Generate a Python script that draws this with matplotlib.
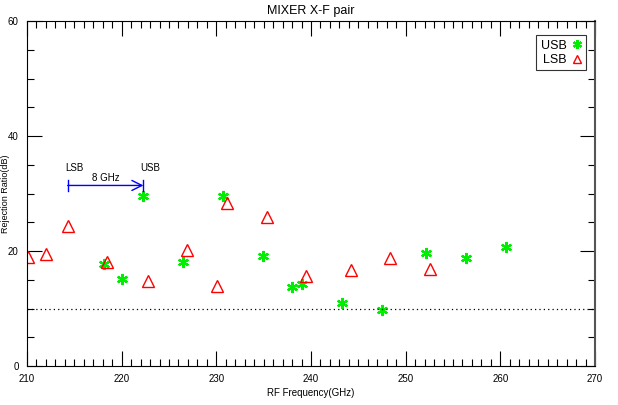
import matplotlib
matplotlib.use('Agg')
import matplotlib.pyplot as plt
from matplotlib.ticker import MultipleLocator

plt.rcParams['font.family'] = ['Liberation Sans', 'DejaVu Sans']

# USB points (RF GHz, rejection dB)
usb_freq = [222.3, 230.7, 218.1, 220.0, 226.5, 234.9, 238.0, 239.0,
            243.3, 247.5, 252.1, 256.4, 260.6]
usb_rej = [29.5, 29.5, 17.8, 15.2, 18.1, 19.2, 13.8, 14.3,
           11.0, 9.8, 19.7, 18.7, 20.7]

# LSB points
lsb_freq = [210.1, 212.0, 214.3, 218.4, 222.8, 226.9, 230.1, 231.1,
            235.3, 239.5, 244.2, 248.3, 252.6]
lsb_rej = [19.0, 19.5, 24.3, 18.1, 14.7, 20.1, 14.0, 28.4,
           26.0, 15.7, 16.7, 18.7, 16.9]

spec_level = 10
arrow_lsb = 214.3
arrow_usb = 222.3
arrow_y = 31.4

fig = plt.figure(figsize=(6.18, 4.05), dpi=100)
ax = fig.add_axes([27 / 618, 1 - 366 / 405, 568 / 618, 345 / 405])

ax.plot(usb_freq, usb_rej, linestyle='none', marker=(6, 2, 0), ms=8,
        mew=1.6, color='#00ee00', label='USB')
ax.plot(lsb_freq, lsb_rej, linestyle='none', marker='^', ms=8,
        mfc='none', mec='red', mew=1.0, label='LSB')

ax.axhline(spec_level, color='black', linestyle=(0, (1, 2.5)), lw=0.9)

# LSB -> USB arrow annotation
ax.annotate('', xy=(arrow_usb, arrow_y), xytext=(arrow_lsb, arrow_y),
            arrowprops=dict(arrowstyle='->', color='blue', lw=1.0,
                            mutation_scale=18, shrinkA=0, shrinkB=0))
ax.plot([arrow_lsb, arrow_lsb], [arrow_y - 1.0, arrow_y + 1.0], color='blue', lw=1.0)
ax.plot([arrow_usb, arrow_usb], [arrow_y - 1.0, arrow_y + 1.0], color='blue', lw=1.0)
ax.text(arrow_lsb - 0.3, arrow_y + 3.0, 'LSB', fontsize=7, ha='left', va='center')
ax.text(arrow_usb - 0.3, arrow_y + 3.0, 'USB', fontsize=7, ha='left', va='center')
ax.text((arrow_lsb + arrow_usb) / 2, arrow_y + 1.3, '8 GHz', fontsize=7,
        ha='center', va='center')

ax.set_xlim(210, 270)
ax.set_ylim(0, 60)
ax.xaxis.set_major_locator(MultipleLocator(10))
ax.xaxis.set_minor_locator(MultipleLocator(1))
ax.yaxis.set_major_locator(MultipleLocator(20))
ax.yaxis.set_minor_locator(MultipleLocator(5))
ax.tick_params(which='both', direction='in', top=True, right=True,
               labelsize=7, width=0.8, pad=6)
ax.tick_params(which='major', length=11)
ax.tick_params(which='minor', length=5)
for s in ax.spines.values():
    s.set_linewidth(0.8)
ax.spines['right'].set_color('#555555')
ax.spines['right'].set_linewidth(1.5)

ax.set_title('MIXER X-F pair', fontsize=9, pad=5)
ax.set_xlabel('RF Frequency(GHz)', fontsize=7, labelpad=3)
ax.set_ylabel('Rejection Ratio(dB)', fontsize=6.5)
ax.yaxis.set_label_coords(-0.03, 0.5)

leg = ax.legend(loc='upper right', bbox_to_anchor=(0.984, 0.959), fontsize=9,
                markerfirst=False, frameon=True, fancybox=False,
                markerscale=0.8, handlelength=0.8, handletextpad=0.4,
                borderpad=0.35, labelspacing=0.2, borderaxespad=0)
leg.get_frame().set_edgecolor('black')
leg.get_frame().set_linewidth(0.8)

fig.savefig('out.png', dpi=100)
